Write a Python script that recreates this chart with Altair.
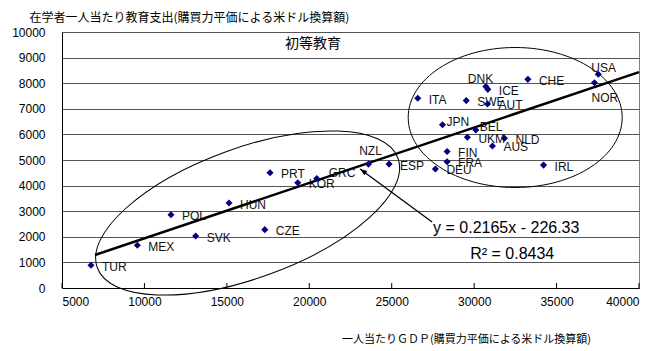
import altair as alt
import pandas as pd

# ---- data ----
countries = ["TUR", "MEX", "POL", "SVK", "HUN", "CZE", "PRT", "KOR", "GRC", "NZL",
             "ESP", "DEU", "FRA", "FIN", "ITA", "SWE", "DNK", "ICE", "AUT", "CHE",
             "USA", "NOR", "JPN", "BEL", "UKM", "NLD", "AUS", "IRL"]
gdp = [6760, 9570, 11610, 13110, 15130, 17300, 17620, 19300, 20450, 23590,
       24840, 27650, 28360, 28360, 26580, 29520, 30710, 30830, 30810, 33260,
       37530, 37300, 28080, 30100, 29590, 31840, 31110, 34210]
spend = [890, 1670, 2860, 2030, 3320, 2280, 4500, 4110, 4280, 4840,
         4840, 4650, 4930, 5330, 7410, 7320, 7870, 7760, 7190, 8150,
         8350, 8020, 6380, 6170, 5890, 5850, 5550, 4800]

x_ticks = [5000, 10000, 15000, 20000, 25000, 30000, 35000, 40000]
y_ticks = [0, 1000, 2000, 3000, 4000, 5000, 6000, 7000, 8000, 9000, 10000]

SLOPE = 0.2165
INTERCEPT = -226.33
trend_x = [7000, 40000]

panel_title = "初等教育"
y_title = "在学者一人当たり教育支出(購買力平価による米ドル換算額)"
x_title = "一人当たりＧＤＰ(購買力平価による米ドル換算額)"
eq_text = "y = 0.2165x  - 226.33"
r2_text = "R² = 0.8434"

# annotation anchors (data units)
ellipse1_center = (16260, 2930)
ellipse2_center = (32490, 6660)
arrow_from = (27450, 2580)
arrow_to = (23080, 4650)
eq_pos = (27510, 2344)
r2_pos = (29760, 1330)
title_pos = (20230, 9530)

# ---- build tables ----
df = pd.DataFrame({"country": countries, "gx": gdp, "gy": spend})
trend_df = pd.DataFrame({"gx": trend_x, "gy": [SLOPE * v + INTERCEPT for v in trend_x]})
tick_df = pd.DataFrame({"gx": x_ticks, "gy": [0] * len(x_ticks), "gy2": [195] * len(x_ticks)})

LATIN = "Liberation Sans"
CJK = "Noto Sans CJK JP"

X = alt.X("gx:Q", scale=alt.Scale(domain=[5000, 40000], nice=False, zero=False),
          axis=alt.Axis(values=x_ticks, format="d", grid=False, ticks=False,
                        domainColor="black", labelFont=LATIN, labelFontSize=12,
                        labelColor="black", labelPadding=8,
                        title=x_title, titleFont=CJK, titleFontSize=11,
                        titleFontWeight="normal", titleColor="black",
                        titleX=404, titleY=51, titleAlign="center",
                        titleBaseline="middle"))
Y = alt.Y("gy:Q", scale=alt.Scale(domain=[0, 10000], nice=False, zero=False),
          axis=alt.Axis(values=y_ticks, format="d", grid=True, gridColor="#555555",
                        gridWidth=1, ticks=False, domainColor="black",
                        labelFont=LATIN, labelFontSize=12, labelColor="black",
                        labelPadding=17,
                        title=y_title, titleFont=CJK, titleFontSize=12,
                        titleFontWeight="normal", titleColor="black",
                        titleAngle=0, titleX=-33, titleY=-15, titleAlign="left",
                        titleBaseline="middle"))


def ellipse_path(k):
    c = 0.5523
    return (f"M1,0 C1,{c*k:.4f} {c:.4f},{k:.4f} 0,{k:.4f} "
            f"C{-c:.4f},{k:.4f} -1,{c*k:.4f} -1,0 "
            f"C-1,{-c*k:.4f} {-c:.4f},{-k:.4f} 0,{-k:.4f} "
            f"C{c:.4f},{-k:.4f} 1,{-c*k:.4f} 1,0 Z")


def one_point(pos):
    return pd.DataFrame({"gx": [pos[0]], "gy": [pos[1]]})


ell1 = alt.Chart(one_point(ellipse1_center)).mark_point(
    shape=ellipse_path(65 / 160), size=320 ** 2, filled=False, stroke="black",
    strokeWidth=1, opacity=1, angle=340
).encode(x=X, y=Y)

ell2 = alt.Chart(one_point(ellipse2_center)).mark_point(
    shape=ellipse_path(70 / 107), size=214 ** 2, filled=False, stroke="black",
    strokeWidth=1, opacity=1
).encode(x=X, y=Y)

ticks = alt.Chart(tick_df).mark_rule(color="black", strokeWidth=1).encode(
    x=X, y=Y, y2="gy2:Q")

# labels: default placement right of the point, with a few exceptions
exceptions = {
    "DNK": dict(dx=-18, dy=-8, align="left"),
    "USA": dict(dx=-7, dy=-6, align="left"),
    "NOR": dict(dx=-3, dy=15, align="left"),
    "JPN": dict(dx=4, dy=-3, align="left"),
    "BEL": dict(dx=4, dy=-3, align="left"),
    "GRC": dict(dx=12, dy=-5, align="left"),
    "NZL": dict(dx=2, dy=-13, align="center"),
}

label_layers = [
    alt.Chart(df).transform_filter(
        alt.FieldOneOfPredicate(field="country", oneOf=[c for c in countries if c not in exceptions])
    ).mark_text(align="left", baseline="middle", dx=11, dy=1.5, font=LATIN,
                fontSize=12, color="#111111").encode(x=X, y=Y, text="country:N")
]
for c, o in exceptions.items():
    label_layers.append(
        alt.Chart(df).transform_filter(alt.datum.country == c).mark_text(
            baseline="middle", font=LATIN, fontSize=12, color="#111111", **o
        ).encode(x=X, y=Y, text="country:N")
    )

trend = alt.Chart(trend_df).mark_line(color="black", strokeWidth=2.5).encode(x=X, y=Y)

points = alt.Chart(df).mark_point(shape="diamond", filled=True, size=50,
                                  color="#000080", opacity=1).encode(x=X, y=Y)

arrow_df = pd.DataFrame({"gx": [arrow_from[0]], "gy": [arrow_from[1]],
                         "gx2": [arrow_to[0]], "gy2": [arrow_to[1]]})
arrow_line = alt.Chart(arrow_df).mark_rule(color="black", strokeWidth=1.3).encode(
    x=X, y=Y, x2="gx2:Q", y2="gy2:Q")
arrow_head = alt.Chart(one_point(arrow_to)).mark_point(
    shape="M0,0 L-0.6,1.7 L0.6,1.7 Z", size=70, filled=True, color="black",
    opacity=1, angle=306
).encode(x=X, y=Y)

eq = alt.Chart(one_point(eq_pos)).mark_text(
    text=eq_text, align="left", baseline="middle", font=LATIN, fontSize=16,
    color="black").encode(x=X, y=Y)
r2 = alt.Chart(one_point(r2_pos)).mark_text(
    text=r2_text, align="left", baseline="middle", font=LATIN, fontSize=16,
    color="black").encode(x=X, y=Y)
title = alt.Chart(one_point(title_pos)).mark_text(
    text=panel_title, align="center", baseline="middle", font=CJK, fontSize=14,
    color="black").encode(x=X, y=Y)

chart = alt.layer(
    ticks, ell1, ell2, *label_layers, trend, points, arrow_line, arrow_head, eq, r2, title
).properties(
    width=577, height=256,
    autosize=alt.AutoSizeParams(type="none"),
    padding={"left": 54, "top": 24, "right": 8, "bottom": 60},
    background="white",
).configure_view(stroke="#808080", strokeWidth=1)

chart.save("out.html", embed_options={"renderer": "svg", "actions": False})
